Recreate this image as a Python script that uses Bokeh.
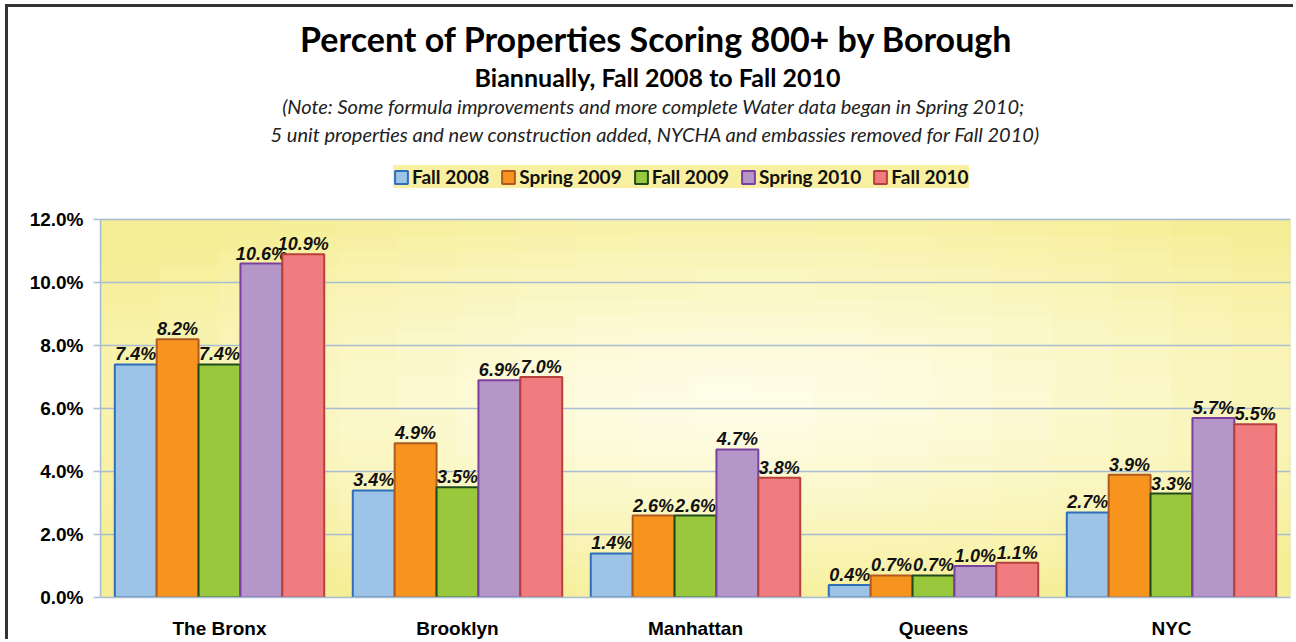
from bokeh.plotting import figure
from bokeh.models import (ColumnDataSource, FactorRange, FixedTicker, Range1d,
                          PrintfTickFormatter, Legend, LegendItem, Label, BoxAnnotation)
from bokeh.transform import dodge
from bokeh.core.properties import value
from bokeh.embed import file_html
from bokeh.resources import INLINE

# ---------------- data ----------------
boroughs = ["The Bronx", "Brooklyn", "Manhattan", "Queens", "NYC"]
series_names = ["Fall 2008", "Spring 2009", "Fall 2009", "Spring 2010", "Fall 2010"]
fall_2008 = [7.4, 3.4, 1.4, 0.4, 2.7]
spring_2009 = [8.2, 4.9, 2.6, 0.7, 3.9]
fall_2009 = [7.4, 3.5, 2.6, 0.7, 3.3]
spring_2010 = [10.6, 6.9, 4.7, 1.0, 5.7]
fall_2010 = [10.9, 7.0, 3.8, 1.1, 5.5]
y_ticks = [0, 2, 4, 6, 8, 10, 12]
y_max = 12

title_text = "Percent of Properties Scoring 800+ by Borough"
subtitle_text = "Biannually, Fall 2008 to Fall 2010"
note_line1 = "(Note: Some formula improvements and more complete Water data began in Spring 2010;"
note_line2 = "5 unit properties and new construction added, NYCHA and embassies removed for Fall 2010)"

# ---------------- layout (pixels) ----------------
W, H = 1288, 635
LEFT, RIGHT, BOTTOM = 92, 6, 45
PLOT_TOP = 212                      # canvas y of the 12% line
frame_w = W - LEFT - RIGHT
frame_h = H - BOTTOM                # frame spans from canvas top to x-axis
plot_h = frame_h - PLOT_TOP
y_top = y_max * frame_h / plot_h    # extend range so header lives in frame


def sx(px):   # canvas x -> synthetic categorical coordinate
    return (px - LEFT) * len(boroughs) / frame_w


def sy(py):   # canvas y -> data y
    return (frame_h - py) * y_max / plot_h


# ---------------- styles ----------------
fills = ["#9DC3E6", "#F7941D", "#99C83C", "#B497C8", "#F07C80"]
edges = ["#2F6EBA", "#B05A22", "#1E4A1E", "#7B3FA0", "#B5403C"]
grid_col = "#A9BDD1"
cols = ["f2008", "s2009", "f2009", "s2010", "f2010"]
series = [fall_2008, spring_2009, fall_2009, spring_2010, fall_2010]

data = {"borough": boroughs}
for c, vals in zip(cols, series):
    data[c] = vals
    data[c + "_lbl"] = [f"{v:.1f}%" for v in vals]
src = ColumnDataSource(data)

p = figure(x_range=FactorRange(factors=boroughs), y_range=Range1d(0, y_top),
           width=W, height=H, output_backend="svg", toolbar_location=None,
           title=None, min_border_left=LEFT, min_border_right=RIGHT,
           min_border_bottom=BOTTOM, min_border_top=0)
p.styles = {"margin-left": "5px", "margin-top": "4px",
            "border-left": "3px solid #333333", "border-top": "3px solid #333333"}
p.border_fill_color = "white"
p.background_fill_color = "white"
p.outline_line_color = None

# background gradient of plot area (decorative)
nx, ny = 20, 24
gl, gr, gb, gt, gc = [], [], [], [], []
light = (254, 253, 232)
dark = (246, 238, 150)
for i in range(nx):
    for j in range(ny):
        x0 = 5.0 * i / nx
        x1 = 5.0 * (i + 1) / nx
        y0 = y_max * j / ny
        y1 = y_max * (j + 1) / ny
        xc = (x0 + x1) / 2
        yc = (y0 + y1) / 2
        d = (((xc - 2.7) / 3.3) ** 2 + ((yc - 6.3) / 6.8) ** 2) ** 0.5
        t = min(d, 1.0) ** 1.3
        rgb = tuple(int(round(light[k] + (dark[k] - light[k]) * t)) for k in range(3))
        gl.append(x0); gr.append(x1); gb.append(y0); gt.append(y1)
        gc.append("#%02x%02x%02x" % rgb)
bg = ColumnDataSource(dict(left=gl, right=gr, bottom=gb, top=gt, color=gc))
p.quad(left="left", right="right", bottom="bottom", top="top", source=bg,
       fill_color="color", line_color="color", line_width=1, level="image")

p.xgrid.visible = False
p.ygrid.ticker = FixedTicker(ticks=y_ticks)
p.ygrid.grid_line_color = grid_col
p.ygrid.grid_line_width = 1.5
p.ygrid.bounds = (0, y_max)

# plot-area outline
p.add_layout(BoxAnnotation(bottom=0, top=y_max, fill_alpha=0, line_color=grid_col,
                           line_width=1.5, level="underlay"))

yax = p.yaxis[0]
yax.ticker = FixedTicker(ticks=y_ticks)
yax.bounds = (0, y_max)
yax.formatter = PrintfTickFormatter(format="%.1f%%")
yax.major_label_text_font = "Liberation Sans"
yax.major_label_text_font_style = "bold"
yax.major_label_text_font_size = "19px"
yax.major_label_text_color = "black"
yax.axis_line_color = grid_col
yax.axis_line_width = 1.5
yax.major_tick_line_color = grid_col
yax.major_tick_line_width = 1.5
yax.major_tick_out = 7
yax.major_tick_in = 0
yax.minor_tick_line_color = None
yax.major_label_standoff = 10

xax = p.xaxis[0]
xax.major_label_text_font = "Liberation Sans"
xax.major_label_text_font_style = "bold"
xax.major_label_text_font_size = "19px"
xax.major_label_text_color = "black"
xax.axis_line_color = grid_col
xax.axis_line_width = 1.5
xax.major_tick_line_color = None
xax.major_label_standoff = 14

bw = 0.176
offsets = [-2 * bw, -bw, 0.0, bw, 2 * bw]
items = []
for i, c in enumerate(cols):
    r = p.vbar(x=dodge("borough", offsets[i], range=p.x_range), top=c, width=bw,
               source=src, fill_color=fills[i], line_color=edges[i], line_width=2)
    p.text(x=dodge("borough", offsets[i], range=p.x_range), y=c, text=c + "_lbl",
           source=src, text_align="center", text_baseline="alphabetic", y_offset=-10,
           text_font=value("Liberation Sans"), text_font_style="bold italic",
           text_font_size="18px", text_color="#111111")
    items.append(LegendItem(label=series_names[i], renderers=[r]))

# legend: box at canvas x=385, y=155..181
legend = Legend(items=items, orientation="horizontal",
                location=(385 - LEFT, frame_h - 181),
                background_fill_color="#F8F0A0", background_fill_alpha=1.0,
                border_line_color=None, label_text_font="Lato",
                label_text_font_style="bold", label_text_font_size="19px",
                label_text_color="#111111",
                glyph_width=16, glyph_height=16, label_standoff=3, spacing=11,
                padding=5, margin=0)
p.add_layout(legend, "center")

# header texts
header = [
    (title_text, 648, 31, "bold", "34px", "black"),
    (subtitle_text, 649, 69, "bold", "25px", "black"),
    (note_line1, 645, 98, "italic", "20px", "#222222"),
    (note_line2, 647, 126, "italic", "20px", "#222222"),
]
for txt, cx, cy, style, size, color in header:
    p.add_layout(Label(x=sx(cx), y=sy(cy), text=txt, text_align="center",
                       text_baseline="middle", text_font="Lato",
                       text_font_style=style, text_font_size=size,
                       text_color=color))

open("out.html", "w").write(file_html(p, INLINE))
